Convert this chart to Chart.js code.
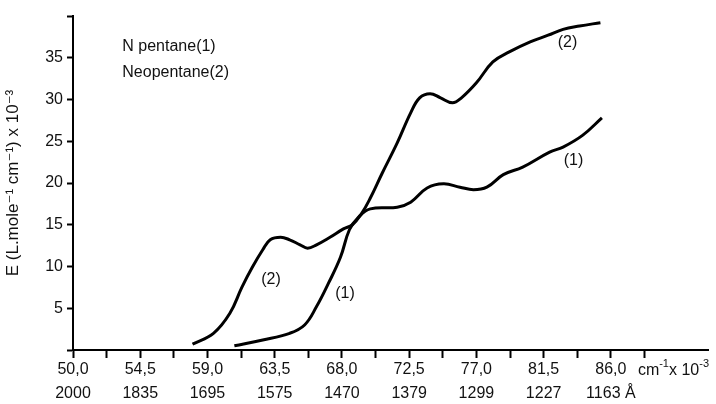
<!DOCTYPE html>
<html>
<head>
<meta charset="utf-8">
<script src="https://cdn.jsdelivr.net/npm/chart.js@4.4.0/dist/chart.umd.min.js"></script>
<style>
  html, body { margin: 0; padding: 0; background: #fff; }
</style>
</head>
<body>
<canvas id="spectrum" width="716" height="404"></canvas>
<script>
// axis labels
const waveNumberLabels = ["50,0", "54,5", "59,0", "63,5", "68,0", "72,5", "77,0", "81,5", "86,0"];
const wavelengthLabels = ["2000", "1835", "1695", "1575", "1470", "1379", "1299", "1227", "1163 Å"];
const majorTicks = [50, 54.5, 59, 63.5, 68, 72.5, 77, 81.5, 86];
const minorTicks = [52.25, 56.75, 61.25, 65.75, 70.25, 74.75, 79.25, 83.75, 88.25];

// N pentane (1)
const pentaneX = [60.8, 62.7, 64.5, 65.5, 66.3, 67.1, 67.9, 68.5, 69.1, 69.9, 71.7, 72.6, 73.7, 74.8, 75.9, 76.8, 77.7, 78.8, 80.1, 81.9, 82.8, 84.1, 85.4];
const pentaneY = [0.5, 1.2, 2.0, 3.0, 5.2, 8.0, 11.1, 14.4, 15.9, 16.9, 17.1, 17.7, 19.4, 19.9, 19.5, 19.2, 19.5, 21.0, 21.9, 23.7, 24.3, 25.7, 27.8];

// Neopentane (2)
const neoX = [58.0, 59.4, 60.5, 61.3, 62.0, 62.7, 63.2, 63.9, 64.5, 65.2, 65.7, 66.3, 67.2, 68.1, 68.7, 69.3, 69.9, 70.7, 71.7, 72.6, 73.2, 73.9, 74.6, 75.4, 76.0, 77.0, 78.1, 79.2, 80.6, 81.8, 82.8, 83.9, 85.3];
const neoY = [0.7, 2.0, 4.4, 7.5, 9.9, 12.0, 13.2, 13.5, 13.2, 12.6, 12.2, 12.6, 13.5, 14.5, 15.0, 16.3, 18.2, 21.2, 24.8, 28.4, 30.2, 30.7, 30.2, 29.6, 30.2, 32.0, 34.5, 35.7, 36.9, 37.7, 38.4, 38.8, 39.2];

const FONT = '"Liberation Sans", "DejaVu Sans", sans-serif';
const INK = "#111";

function toPoints(xs, ys) {
  return xs.map((v, i) => ({ x: v, y: ys[i] }));
}

// free text: legend lines, curve numbers, unit
const textPlugin = {
  id: "textPlugin",
  afterDraw(chart) {
    const { ctx } = chart;
    const x = chart.scales.x;
    const y = chart.scales.y;
    ctx.save();
    ctx.fillStyle = INK;
    ctx.font = "16px " + FONT;
    ctx.textBaseline = "middle";

    ctx.textAlign = "left";
    ctx.fillText("N pentane(1)", x.getPixelForValue(53.3), y.getPixelForValue(36.3));
    ctx.fillText("Neopentane(2)", x.getPixelForValue(53.3), y.getPixelForValue(33.2));

    ctx.textAlign = "center";
    ctx.fillText("(2)", x.getPixelForValue(63.25), y.getPixelForValue(8.4));
    ctx.fillText("(1)", x.getPixelForValue(68.2), y.getPixelForValue(6.8));
    ctx.fillText("(1)", x.getPixelForValue(83.5), y.getPixelForValue(22.7));
    ctx.fillText("(2)", x.getPixelForValue(83.1), y.getPixelForValue(36.8));

    // unit with raised exponents
    ctx.textAlign = "left";
    let ux = x.getPixelForValue(86) + 27;
    const uy = chart.chartArea.bottom + 21;
    const put = (s, dy, size) => {
      ctx.font = size + "px " + FONT;
      ctx.fillText(s, ux, uy + dy);
      ux += ctx.measureText(s).width;
    };
    put("cm", 0, 16);
    put("-1", -7, 11);
    put("x 10", 0, 16);
    put("-3", -7, 11);
    ctx.restore();
  }
};

const lineStyle = {
  borderColor: "#000",
  borderWidth: 3,
  pointRadius: 0,
  fill: false,
  tension: 0.4
};

new Chart(document.getElementById("spectrum").getContext("2d"), {
  type: "line",
  data: {
    datasets: [
      Object.assign({ label: "N pentane (1)", data: toPoints(pentaneX, pentaneY) }, lineStyle),
      Object.assign({ label: "Neopentane (2)", data: toPoints(neoX, neoY) }, lineStyle)
    ]
  },
  options: {
    responsive: false,
    animation: false,
    devicePixelRatio: 1,
    layout: { padding: { top: 16, right: 8, left: 0, bottom: 0 } },
    plugins: {
      legend: { display: false },
      tooltip: { enabled: false }
    },
    scales: {
      x: {
        type: "linear",
        min: 50,
        max: 92.5,
        afterBuildTicks: scale => {
          scale.ticks = majorTicks.concat(minorTicks).sort((a, b) => a - b).map(v => ({ value: v }));
        },
        afterFit: scale => { scale.height = 54; },
        border: { color: "#000", width: 2 },
        grid: { drawOnChartArea: false, tickLength: 8, tickColor: "#000", tickWidth: 2 },
        ticks: {
          autoSkip: false,
          maxRotation: 0,
          padding: 0,
          color: INK,
          font: { family: FONT, size: 16, lineHeight: 1.5 },
          callback: value => {
            const i = majorTicks.indexOf(value);
            return i >= 0 ? [waveNumberLabels[i], wavelengthLabels[i]] : "";
          }
        }
      },
      y: {
        min: 0,
        max: 40,
        afterFit: scale => { scale.width = 73; },
        border: { color: "#000", width: 2 },
        grid: { drawOnChartArea: false, tickLength: 6, tickColor: "#000", tickWidth: 2 },
        ticks: {
          stepSize: 2.5,
          padding: 4,
          color: INK,
          font: { family: FONT, size: 16 },
          callback: value => (value % 5 === 0 && value > 0 && value < 40 ? value : "")
        },
        title: {
          display: true,
          text: "E (L.mole⁻¹ cm⁻¹) x 10⁻³",
          color: INK,
          font: { family: FONT, size: 17 },
          padding: { top: 3, bottom: 0 }
        }
      }
    }
  },
  plugins: [textPlugin]
});
</script>
</body>
</html>
